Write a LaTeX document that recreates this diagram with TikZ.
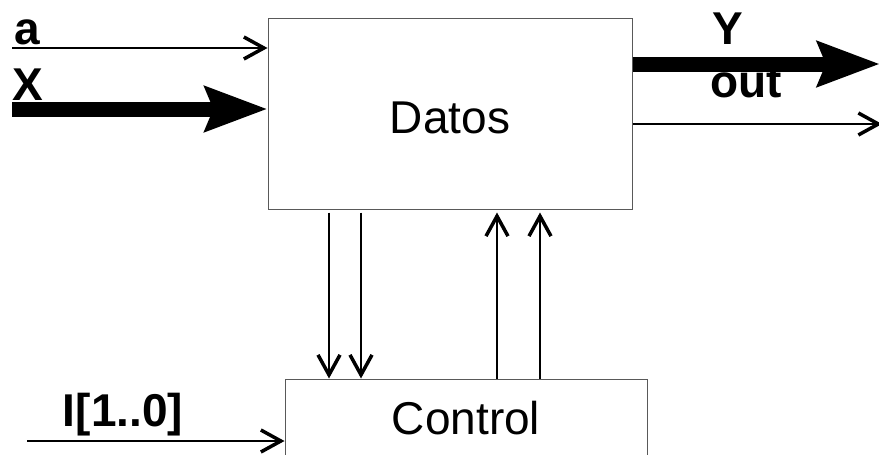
\documentclass[tikz,border=0pt]{standalone}
\usepackage{fontspec}
\setmainfont{Liberation Sans}
\usetikzlibrary{arrows.meta}

\tikzset{
  blk/.style={draw=black!65, line width=1pt, inner sep=0pt,
    font=\fontsize{46}{54}\selectfont},
  lbl/.style={inner sep=0pt, font=\fontsize{46}{54}\selectfont\bfseries},
  sig/.style={line width=2pt,
    -{Straight Barb[length=20pt, width=22pt, line width=3.5pt]}},
  bus/.style={line width=15pt,
    -{Stealth[length=62pt, width=44pt, inset=8pt]}},
}

\begin{document}
\begin{tikzpicture}[x=1pt, y=-1pt]
   \useasboundingbox (0,0) rectangle (879,455);
   % the two blocks
   \node[blk, minimum width=364pt, minimum height=191pt,
         text height=39pt, text depth=0pt] (datos) at (450,113.5) {Datos};
   \node[blk, minimum width=362pt, minimum height=79pt] (control) at (466,418.5) {Control};
   % inputs
   \coordinate (ain) at (12,48);
   \coordinate (xin) at (12,109);
   \coordinate (iin) at (27,441);
   \draw[sig] (ain) -- (ain -| datos.west);
   \draw[bus] (xin) -- (xin -| datos.west);
   \draw[sig] (iin) -- (iin -| control.west);
   \node[lbl, anchor=base west] (alab) at (14,45) {a};
   \node[lbl, anchor=base west] (xlab) at (12,100) {X};
   \node[lbl, anchor=base] (ilab) at (123,426) {I[1..0]};
   % outputs
   \coordinate (yout) at (880,64);
   \coordinate (oout) at (882,124);
   \draw[bus] (yout -| datos.east) -- (yout);
   \draw[sig] (oout -| datos.east) -- (oout);
   \node[lbl, anchor=base] (ylab) at (728,45) {Y};
   \node[lbl, anchor=base] (olab) at (746,97) {out};
   % datos -> control
   \draw[sig] ([xshift=-121pt, yshift=-3pt]datos.south) -- ([xshift=-121pt]datos.south |- control.north);
   \draw[sig] ([xshift=-89pt, yshift=-3pt]datos.south) -- ([xshift=-89pt]datos.south |- control.north);
   % control -> datos
   \draw[sig] ([xshift=47pt]datos.south |- control.north) -- ([xshift=47pt, yshift=-3pt]datos.south);
   \draw[sig] ([xshift=90pt]datos.south |- control.north) -- ([xshift=90pt, yshift=-3pt]datos.south);
\end{tikzpicture}
\end{document}
